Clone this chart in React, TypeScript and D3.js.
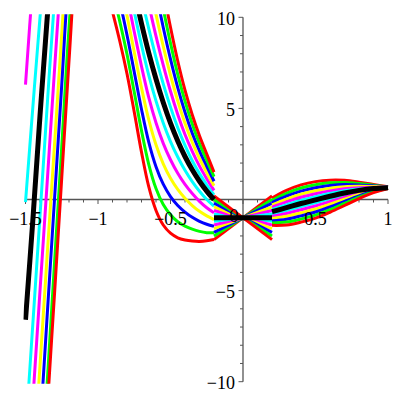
import React from 'react';
import * as d3 from 'd3';

// curve parameters (initial slopes), same order as the value rows below
const slopes = [-6, -5, -4, -3, -2, -1, 0, 1, 2, 3, 4, 5, 6];
// colour by |slope|
const palette = ['#000000', '#00FFFF', '#FF00FF', '#FFFF00', '#0000FF', '#00FF00', '#FF0000'];

const leftX = [
  -1.5, -1.45, -1.4, -1.35, -1.3, -1.25, -1.2, -1.1,
  -1.0, -0.95, -0.9, -0.85, -0.8, -0.75, -0.7, -0.65, -0.6, -0.55, -0.5, -0.45, -0.4, -0.35, -0.3, -0.25, -0.2,
];
const leftY = [
  [-33, -26, -19, -11.5, -5.2, 1.2, 7.6, 19,
    24, 23.8, 23.3, 22.5, 21.3, 19.8, 18, 16, 13.7, 11.5, 9.45, 7.6, 6.0, 4.65, 3.5, 2.5, 1.5],
  [-29, -22.8, -16.4, -10, -3.5, 2.9, 9.4, 19.5,
    23.33, 22.93, 22.25, 21.28, 19.97, 18.4, 16.61, 14.68, 12.52, 10.47, 8.58, 6.87, 5.4, 4.15, 3.08, 2.16, 1.25],
  [-25, -19, -12.7, -6.3, 0.0, 6.3, 12.5, 20,
    22.67, 22.07, 21.2, 20.07, 18.63, 17.0, 15.22, 13.35, 11.34, 9.44, 7.7, 6.14, 4.79, 3.64, 2.67, 1.82, 1.0],
  [-21, -15.2, -9.1, -3.0, 3.0, 9.1, 15, 20.5,
    22, 21.2, 20.15, 18.85, 17.3, 15.61, 13.83, 12.03, 10.16, 8.41, 6.82, 5.41, 4.18, 3.14, 2.25, 1.48, 0.75],
  [-17.1, -11.1, -5.0, 1.0, 7.1, 13.0, 18, 21.5,
    21.33, 20.33, 19.1, 17.63, 15.97, 14.21, 12.44, 10.7, 8.97, 7.38, 5.94, 4.67, 3.57, 2.64, 1.83, 1.14, 0.5],
  [-12.9, -6.9, -0.9, 5.2, 11.0, 15.5, 19, 22,
    20.67, 19.47, 18.05, 16.42, 14.63, 12.81, 11.05, 9.38, 7.79, 6.35, 5.07, 3.94, 2.97, 2.13, 1.42, 0.8, 0.25],
  [-6.6, -1.2, 4.6, 10, 14.5, 18.8, 22.5, 22.8,
    20, 18.6, 17.0, 15.2, 13.3, 11.41, 9.66, 8.05, 6.61, 5.32, 4.19, 3.21, 2.36, 1.63, 1.0, 0.46, 0.0],
  [-0.15, 5.0, 10, 14.5, 18.3, 21, 22.5, 21.7,
    18.87, 17.47, 15.88, 14.12, 12.23, 10.31, 8.48, 6.83, 5.41, 4.2, 3.18, 2.33, 1.6, 0.98, 0.45, 0.0, -0.37],
  [6.3, 11.8, 16.5, 20.5, 23, 24, 24, 20.5,
    17.73, 16.33, 14.77, 13.03, 11.17, 9.21, 7.31, 5.6, 4.21, 3.08, 2.18, 1.44, 0.83, 0.33, -0.1, -0.45, -0.73],
  [13, 18.5, 23, 25, 25.5, 25, 23.5, 19.5,
    16.6, 15.2, 13.65, 11.95, 10.1, 8.1, 6.13, 4.38, 3.0, 1.96, 1.17, 0.56, 0.07, -0.33, -0.65, -0.9, -1.1],
  [20, 25, 28, 29, 28, 26, 23, 18.5,
    15.47, 14.07, 12.53, 10.87, 9.03, 7.0, 4.95, 3.15, 1.8, 0.84, 0.16, -0.33, -0.69, -0.98, -1.2, -1.36, -1.47],
  [26, 30, 32, 32, 30, 27, 23, 17.5,
    14.33, 12.93, 11.42, 9.78, 7.97, 5.9, 3.78, 1.93, 0.6, -0.28, -0.84, -1.22, -1.46, -1.63, -1.75, -1.82, -1.83],
  [32, 34, 35, 34, 31, 27, 22, 16.5,
    13.2, 11.8, 10.3, 8.7, 6.9, 4.8, 2.6, 0.7, -0.6, -1.4, -1.85, -2.1, -2.22, -2.28, -2.3, -2.27, -2.2],
];

const midX = [-0.2, 0.2];
const midY = [
  [0.2, -2.2], [0.0, -2.0], [-0.2, -1.8], [-0.4, -1.6], [-0.6, -1.4], [-0.8, -1.2], [-1, -1],
  [-1.2, -0.8], [-1.4, -0.6], [-1.6, -0.4], [-1.8, -0.2], [-2.0, 0.0], [-2.2, 0.2],
];

const rightX = [0.2, 0.3, 0.4, 0.5, 0.6, 0.7, 0.8, 0.9, 1.0];
const rightY = [
  [-1.42, -1.4, -1.24, -1.02, -0.7, -0.33, 0.05, 0.378, 0.6],
  [-1.295, -1.24, -1.07, -0.855, -0.555, -0.215, 0.125, 0.415, 0.61],
  [-1.17, -1.082, -0.9, -0.688, -0.408, -0.1, 0.2, 0.452, 0.618],
  [-1.045, -0.924, -0.73, -0.521, -0.261, 0.015, 0.275, 0.489, 0.626],
  [-0.92, -0.766, -0.56, -0.354, -0.114, 0.13, 0.35, 0.526, 0.634],
  [-0.795, -0.608, -0.39, -0.187, 0.033, 0.245, 0.425, 0.563, 0.642],
  [-0.67, -0.45, -0.22, -0.02, 0.18, 0.36, 0.5, 0.6, 0.65],
  [-0.545, -0.292, -0.05, 0.147, 0.327, 0.475, 0.575, 0.637, 0.658],
  [-0.42, -0.134, 0.12, 0.314, 0.474, 0.59, 0.65, 0.674, 0.666],
  [-0.295, 0.024, 0.29, 0.481, 0.621, 0.705, 0.725, 0.711, 0.674],
  [-0.17, 0.182, 0.46, 0.648, 0.768, 0.82, 0.8, 0.748, 0.682],
  [-0.045, 0.34, 0.63, 0.815, 0.915, 0.935, 0.875, 0.785, 0.69],
  [0.08, 0.5, 0.8, 0.98, 1.06, 1.05, 0.95, 0.82, 0.7],
];

const xTickLabels = ['−1.5', '−1', '−0.5', '0', '0.5', '1'];
const xTickValues = [-1.5, -1, -0.5, 0, 0.5, 1];
const yTickLabels = ['−10', '−5', '5', '10'];
const yTickValues = [-10, -5, 5, 10];

const W = 400;
const H = 400;

export default function App() {
  const x = d3.scaleLinear().domain([-1.5, 1]).range([25.5, 388]);
  const y = d3.scaleLinear().domain([-10, 10]).range([381.7, 17.3]);
  const line = d3
    .line<[number, number]>()
    .x((d) => x(d[0]))
    .y((d) => y(d[1]))
    .curve(d3.curveCatmullRom.alpha(0.5));

  const order = [6, 5, 4, 3, 2, 1, -1, -2, -3, -4, -5, -6, 0];
  const minorX = d3.range(-15, 11).map((i) => i / 10);
  const minorY = d3.range(-10, 11);
  const axisColor = '#555555';

  return (
    <svg
      width={W}
      height={H}
      style={{ position: 'absolute', left: 0, top: 0, background: '#fff' }}
      fontFamily="'Liberation Serif', 'Times New Roman', serif"
    >
      <defs>
        <clipPath id="plotclip">
          <rect x={x(-1.5) - 2} y={y(10) - 3} width={x(1) - x(-1.5) + 5} height={y(-10) - y(10) + 5} />
        </clipPath>
      </defs>
      {/* axes */}
      <line x1={x(-1.5)} x2={x(1)} y1={y(0)} y2={y(0)} stroke={axisColor} strokeWidth={1.3} />
      <line x1={x(0)} x2={x(0)} y1={y(10)} y2={y(-10)} stroke={axisColor} strokeWidth={1.3} />
      {minorX.map((v, i) => {
        const major = Math.abs(v * 2 - Math.round(v * 2)) < 1e-6;
        return (
          <line key={'xt' + i} x1={x(v)} x2={x(v)} y1={y(0)} y2={y(0) + (major ? 4.5 : 3)} stroke={axisColor} strokeWidth={1} />
        );
      })}
      {minorY.map((v, i) => {
        const major = v % 5 === 0;
        return (
          <line key={'yt' + i} x1={x(0) - (major ? 4.5 : 3)} x2={x(0)} y1={y(v)} y2={y(v)} stroke={axisColor} strokeWidth={1} />
        );
      })}
      {/* curves */}
      <g clipPath="url(#plotclip)" fill="none" strokeLinejoin="round">
        {order.map((s) => {
          const i = slopes.indexOf(s);
          const color = palette[Math.abs(s)];
          const w = s === 0 ? 5 : 3;
          const l = leftX.map((xv, j) => [xv, leftY[i][j]] as [number, number]);
          const m = midX.map((xv, j) => [xv, midY[i][j]] as [number, number]);
          const r = rightX.map((xv, j) => [xv, rightY[i][j]] as [number, number]);
          return (
            <g key={'c' + s} stroke={color} strokeWidth={w}>
              <path d={line(l) || ''} />
              <path d={line(m) || ''} />
              <path d={line(r) || ''} />
            </g>
          );
        })}
      </g>
      {/* labels */}
      {xTickValues.map((v, i) => (
        <text
          key={'xl' + i}
          x={v === 0 ? x(v) - 9 : x(v)}
          y={v === 0 ? y(0) + 22.5 : y(0) + 25.5}
          fontSize={18}
          textAnchor="middle"
          fill="#000"
        >
          {xTickLabels[i]}
        </text>
      ))}
      {yTickValues.map((v, i) => (
        <text key={'yl' + i} x={x(0) - 8} y={y(v) + 7.5} fontSize={18} textAnchor="end" fill="#000">
          {yTickLabels[i]}
        </text>
      ))}
    </svg>
  );
}
